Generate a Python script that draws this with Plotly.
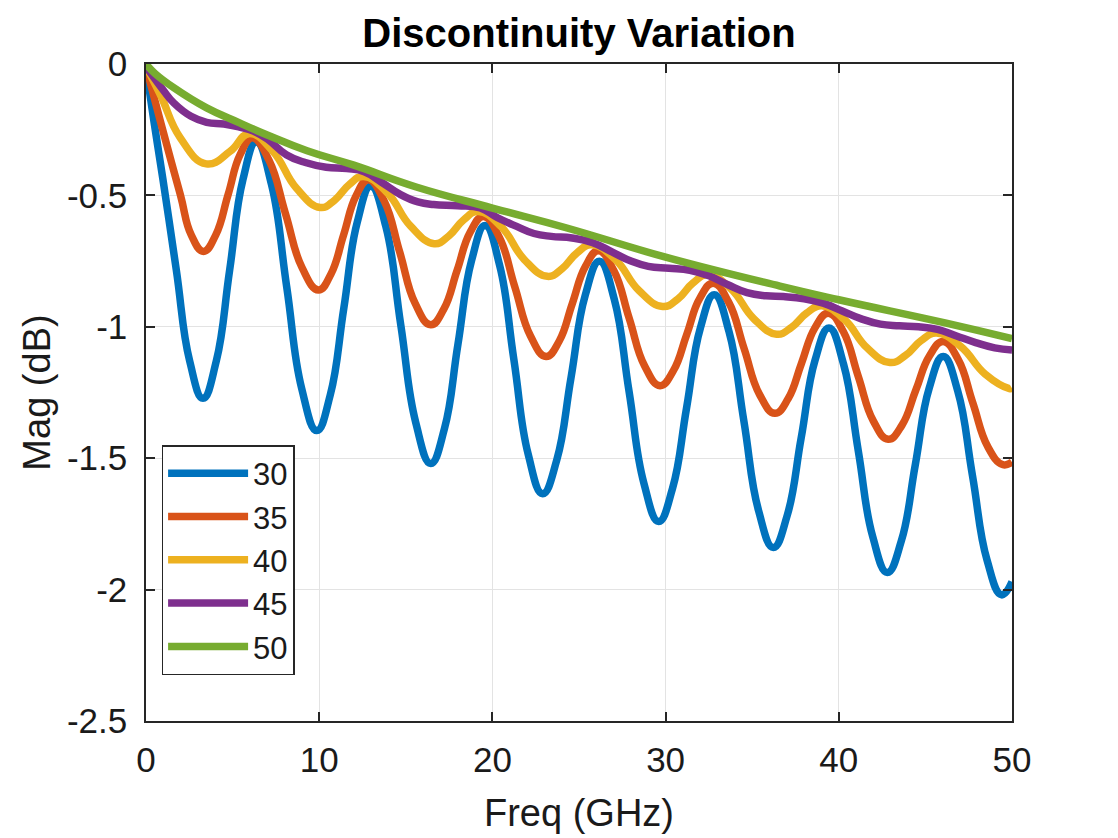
import plotly.graph_objects as go

# ---- data (Freq in GHz, Mag in dB) ----
f30 = [0, 0.45, 0.98, 1.75, 2.52, 3.29, 4.06, 4.83, 5.60, 6.37, 7.24, 8.12, 8.99, 9.86,
       10.64, 11.42, 12.20, 12.98, 13.85, 14.71, 15.58, 16.44, 17.23, 18.01, 18.80, 19.58,
       20.41, 21.24, 22.07, 22.90, 23.72, 24.54, 25.36, 26.18, 27.04, 27.89, 28.75, 29.60,
       30.40, 31.21, 32.01, 32.81, 33.66, 34.52, 35.37, 36.22, 37.02, 37.83, 38.63, 39.43,
       40.27, 41.12, 41.96, 42.80, 43.61, 44.42, 45.22, 46.03, 46.87, 47.72, 48.56, 49.40, 50.0]
m30 = [-0.01, -0.215, -0.44, -0.784, -1.13, -1.272, -1.130, -0.784, -0.439, -0.297, -0.457, -0.846, -1.235, -1.395,
       -1.259, -0.930, -0.601, -0.465, -0.619, -0.993, -1.366, -1.520, -1.388, -1.067, -0.747, -0.615,
       -0.764, -1.125, -1.486, -1.635, -1.506, -1.193, -0.880, -0.751, -0.896, -1.246, -1.596, -1.741,
       -1.615, -1.309, -1.004, -0.878, -1.018, -1.359, -1.700, -1.840, -1.718, -1.422, -1.127, -1.005,
       -1.141, -1.470, -1.799, -1.935, -1.815, -1.524, -1.233, -1.113, -1.245, -1.567, -1.888, -2.020, -1.970]

f35 = [0, 0.83, 1.98, 2.61, 3.32, 4.03, 4.74, 5.44, 6.15, 7.10, 8.06, 9.01, 9.96,
       10.68, 11.41, 12.13, 12.85, 13.75, 14.65, 15.54, 16.44, 17.20, 17.96, 18.72, 19.48,
       20.39, 21.29, 22.20, 23.10, 23.86, 24.61, 25.37, 26.12, 27.01, 27.90, 28.79, 29.68,
       30.45, 31.22, 31.98, 32.75, 33.64, 34.53, 35.42, 36.31, 37.08, 37.85, 38.62, 39.39,
       40.26, 41.12, 41.99, 42.85, 43.65, 44.44, 45.24, 46.03, 46.89, 47.74, 48.60, 49.45, 50.0]
m35 = [-0.01, -0.218, -0.497, -0.650, -0.713, -0.650, -0.497, -0.344, -0.281, -0.366, -0.571, -0.775, -0.860,
       -0.799, -0.650, -0.501, -0.440, -0.521, -0.716, -0.911, -0.992, -0.932, -0.786, -0.640, -0.580,
       -0.658, -0.847, -1.035, -1.113, -1.054, -0.912, -0.770, -0.711, -0.786, -0.968, -1.149, -1.224,
       -1.167, -1.029, -0.891, -0.834, -0.906, -1.082, -1.257, -1.329, -1.273, -1.138, -1.004, -0.948,
       -1.018, -1.188, -1.358, -1.428, -1.374, -1.242, -1.110, -1.056, -1.124, -1.290, -1.456, -1.524, -1.515]

f40 = [0, 0.83, 1.98, 3.48, 4.86, 5.95, 7.32, 8.69, 10.06, 10.89, 11.73, 12.56,
       13.92, 15.28, 16.64, 17.49, 18.34, 19.19, 20.52, 21.84, 23.17, 24.02, 24.88, 25.73,
       27.10, 28.46, 29.83, 30.71, 31.58, 32.46, 33.78, 35.09, 36.41, 37.27, 38.14, 39.00,
       40.32, 41.63, 42.95, 43.85, 44.74, 45.64, 47.04, 48.45, 49.85, 50.0]
m40 = [-0.01, -0.117, -0.281, -0.380, -0.332, -0.265, -0.332, -0.473, -0.546, -0.518, -0.459, -0.428,
       -0.489, -0.617, -0.684, -0.654, -0.593, -0.561, -0.620, -0.744, -0.808, -0.779, -0.719, -0.688,
       -0.744, -0.862, -0.923, -0.894, -0.833, -0.802, -0.856, -0.969, -1.028, -1.002, -0.948, -0.920,
       -0.972, -1.080, -1.136, -1.109, -1.053, -1.024, -1.075, -1.180, -1.235, -1.234]

f45 = [0, 1.0, 1.6, 2.6, 3.5, 4.5, 5.4, 6.2, 7.0, 8.1, 9.2, 10.4, 11.6, 12.6, 13.6, 14.7,
       15.7, 16.6, 18.0, 19.3, 20.3, 21.4, 22.4, 23.4, 24.6, 25.8, 26.9, 28.0, 29.0, 30.2,
       31.4, 32.5, 33.6, 34.7, 35.8, 36.8, 38.0, 39.1, 40.2, 41.3, 42.4, 43.5, 44.6, 45.7,
       46.8, 47.9, 49.0, 50.0]
m45 = [-0.01, -0.10, -0.148, -0.199, -0.222, -0.228, -0.240, -0.255, -0.285, -0.345, -0.375, -0.393,
       -0.398, -0.410, -0.450, -0.497, -0.525, -0.535, -0.539, -0.548, -0.585, -0.618, -0.645, -0.656,
       -0.662, -0.680, -0.715, -0.750, -0.770, -0.777, -0.785, -0.806, -0.840, -0.870, -0.882, -0.885,
       -0.893, -0.910, -0.940, -0.970, -0.990, -0.996, -1.000, -1.010, -1.035, -1.060, -1.080, -1.088]

f50 = [0, 0.5, 1.6, 3.5, 5.4, 7.0, 9.3, 12.0, 15.6, 20.0, 24.3, 30.0, 36.6, 40.0, 46.2, 50.0]
m50 = [0.0, -0.035, -0.090, -0.167, -0.224, -0.270, -0.330, -0.385, -0.468, -0.548, -0.624,
       -0.735, -0.845, -0.897, -0.986, -1.045]

series_names = ["30", "35", "40", "45", "50"]
series_colors = ["#0072BD", "#D95319", "#EDB120", "#7E2F8E", "#77AC30"]

x_ticks = [0, 10, 20, 30, 40, 50]
y_ticks = [0, -0.5, -1, -1.5, -2, -2.5]
y_ticktext = ["0", "-0.5", "-1", "-1.5", "-2", "-2.5"]

FONT = "Liberation Sans, Arial, Helvetica, sans-serif"

fig = go.Figure()
for name, color, xs, ys in zip(series_names, series_colors,
                               [f30, f35, f40, f45, f50], [m30, m35, m40, m45, m50]):
    fig.add_trace(go.Scatter(x=xs, y=ys, name=name, mode="lines",
                             line=dict(color=color, width=7.5, shape="spline", smoothing=1.3)))

axis_common = dict(showline=True, linecolor="#262626", linewidth=1.5, mirror="ticks",
                   ticks="inside", ticklen=9, tickwidth=1.5, tickcolor="#262626",
                   showgrid=True, gridcolor="#e3e3e3", gridwidth=1, zeroline=False,
                   tickfont=dict(family=FONT, size=35, color="#1a1a1a"))

fig.update_layout(
    width=1118, height=838,
    margin=dict(l=146, r=106, t=64, b=117),
    paper_bgcolor="white", plot_bgcolor="white",
    font=dict(family=FONT, color="#1a1a1a"),
    title=dict(text="<b>Discontinuity Variation</b>", x=0.5, xref="paper", xanchor="center",
               y=1, yref="paper", yanchor="bottom", pad=dict(b=17),
               font=dict(family=FONT, size=40, color="black")),
    xaxis=dict(range=[0, 50], tickvals=x_ticks, ticktext=[str(v) for v in x_ticks],
               ticklabelstandoff=7,
               title=dict(text="Freq (GHz)", font=dict(family=FONT, size=38), standoff=22),
               **axis_common),
    yaxis=dict(range=[-2.5, 0], tickvals=y_ticks, ticktext=y_ticktext,
               ticklabelstandoff=10,
               title=dict(text="Mag (dB)", font=dict(family=FONT, size=38), standoff=5),
               **axis_common),
    legend=dict(x=0.018, y=0.42, xanchor="left", yanchor="top",
                bgcolor="white", bordercolor="#262626", borderwidth=1.5,
                font=dict(family=FONT, size=31, color="#1a1a1a"),
                itemwidth=80, tracegroupgap=0),
    showlegend=True,
)

fig.write_html("out.html", config={"displayModeBar": False},
               post_script="document.body.style.margin='0';")
